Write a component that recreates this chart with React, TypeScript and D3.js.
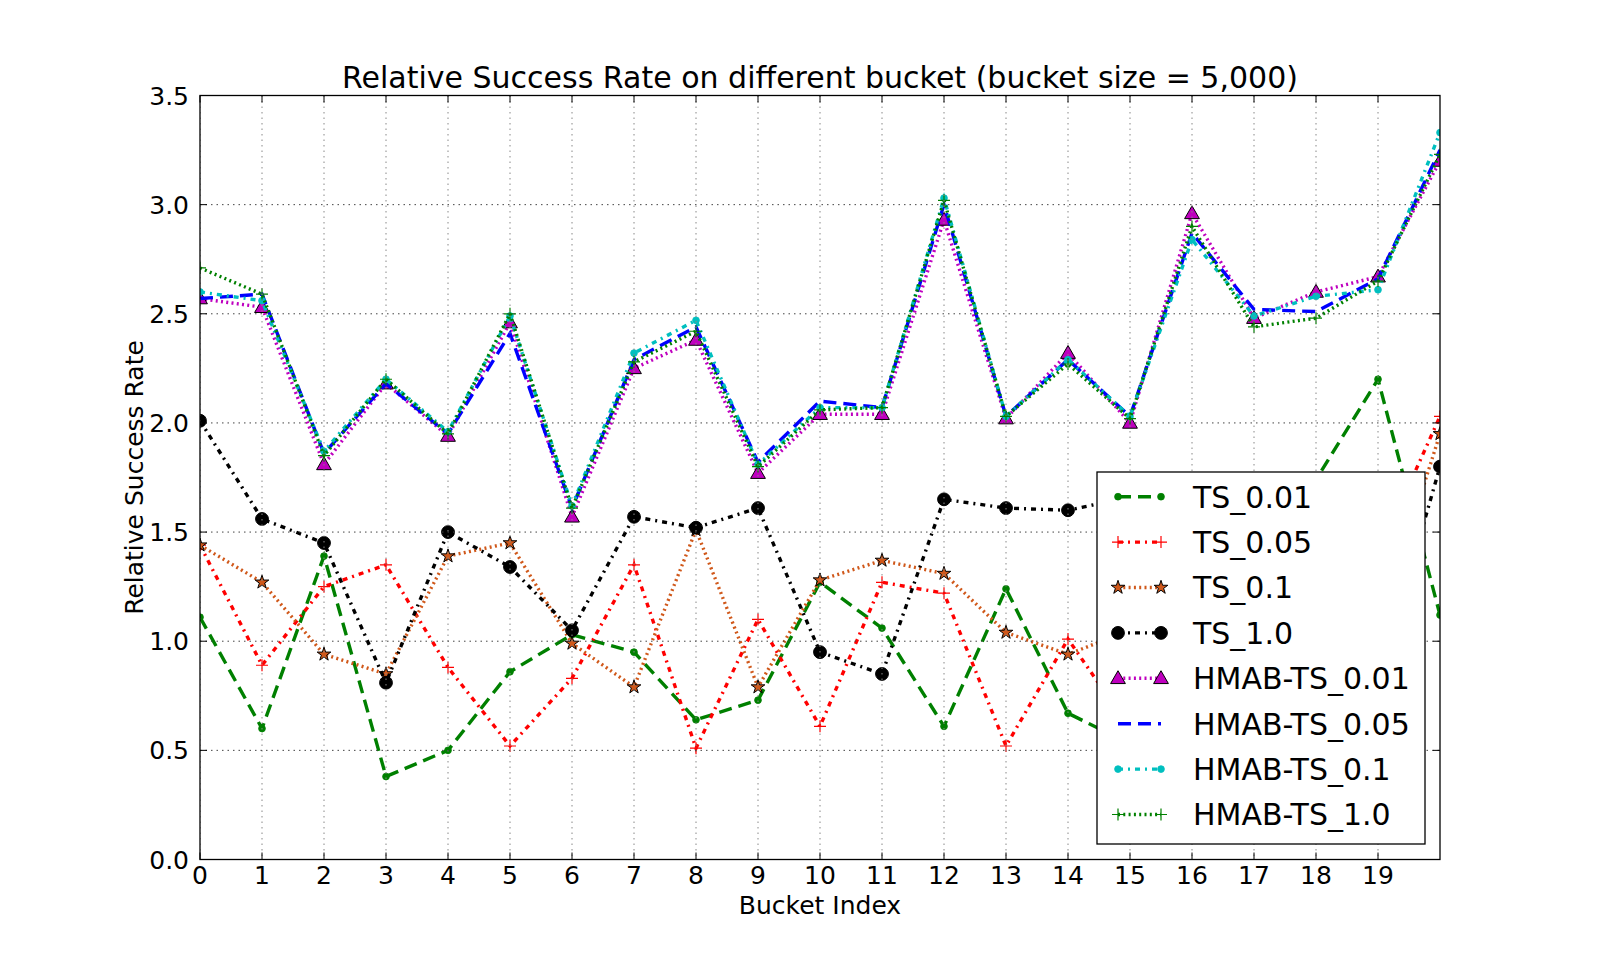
import * as React from 'react'
import * as d3 from 'd3'

// bucket index for every point, x ticks shown 0..19
const buckets = [0, 1, 2, 3, 4, 5, 6, 7, 8, 9, 10, 11, 12, 13, 14, 15, 16, 17, 18, 19, 20]
const xTicks = [0, 1, 2, 3, 4, 5, 6, 7, 8, 9, 10, 11, 12, 13, 14, 15, 16, 17, 18, 19]
const yTicks = [0, 0.5, 1, 1.5, 2, 2.5, 3, 3.5]

const ts001 = [1.11, 0.6, 1.39, 0.38, 0.5, 0.86, 1.03, 0.95, 0.64, 0.73, 1.27, 1.06, 0.61, 1.24, 0.67, 0.53, 0.95, 1.3, 1.74, 2.2, 1.12]
const ts005 = [1.44, 0.89, 1.25, 1.35, 0.88, 0.52, 0.83, 1.35, 0.51, 1.1, 0.61, 1.27, 1.22, 0.52, 1.01, 0.6, 1.25, 0.85, 1.15, 1.4, 2.03]
const ts01 = [1.44, 1.27, 0.94, 0.85, 1.39, 1.45, 0.99, 0.79, 1.51, 0.79, 1.28, 1.37, 1.31, 1.04, 0.94, 1.05, 0.9, 1.2, 0.95, 1.05, 1.95]
const ts10 = [2.01, 1.56, 1.45, 0.81, 1.5, 1.34, 1.05, 1.57, 1.52, 1.61, 0.95, 0.85, 1.65, 1.61, 1.6, 1.66, 1.45, 1.7, 1.2, 0.81, 1.8]
const hmab001 = [2.57, 2.53, 1.81, 2.18, 1.94, 2.46, 1.57, 2.25, 2.38, 1.77, 2.04, 2.04, 2.93, 2.02, 2.32, 2.0, 2.96, 2.48, 2.6, 2.67, 3.2]
const hmab005 = [2.57, 2.59, 1.86, 2.18, 1.95, 2.41, 1.61, 2.29, 2.44, 1.82, 2.1, 2.07, 3.0, 2.03, 2.29, 2.03, 2.87, 2.52, 2.51, 2.66, 3.25]
const hmab01 = [2.6, 2.56, 1.87, 2.2, 1.96, 2.49, 1.62, 2.32, 2.47, 1.81, 2.07, 2.07, 3.03, 2.03, 2.29, 2.03, 2.84, 2.49, 2.58, 2.61, 3.33]
const hmab10 = [2.71, 2.59, 1.85, 2.2, 1.95, 2.5, 1.61, 2.28, 2.42, 1.8, 2.06, 2.07, 3.02, 2.03, 2.27, 2.02, 2.9, 2.44, 2.48, 2.65, 3.23]

type MarkerKind = 'dot' | 'plus' | 'star' | 'circle' | 'triangle' | 'none'

interface ISeries {
    name: string
    values: number[]
    color: string
    dash: string
    marker: MarkerKind
}

const DASHED = '13,7'
const DASHDOT = '5,5,2,5'
const DOTTED = '2,3.3'

const series: ISeries[] = [
    { name: 'TS_0.01', values: ts001, color: '#008000', dash: DASHED, marker: 'dot' },
    { name: 'TS_0.05', values: ts005, color: '#ff0000', dash: DASHDOT, marker: 'plus' },
    { name: 'TS_0.1', values: ts01, color: '#d0581a', dash: DOTTED, marker: 'star' },
    { name: 'TS_1.0', values: ts10, color: '#000000', dash: DASHDOT, marker: 'circle' },
    { name: 'HMAB-TS_0.01', values: hmab001, color: '#bf00bf', dash: DOTTED, marker: 'triangle' },
    { name: 'HMAB-TS_0.05', values: hmab005, color: '#0000ff', dash: DASHED, marker: 'none' },
    { name: 'HMAB-TS_0.1', values: hmab01, color: '#00bfbf', dash: DASHDOT, marker: 'dot' },
    { name: 'HMAB-TS_1.0', values: hmab10, color: '#008000', dash: DOTTED, marker: 'plus' },
]

const W = 1600
const H = 955
const left = 200
const right = 1440
const top = 95.5
const bottom = 859.5
const LW = 3.4
const FONT = 'DejaVu Sans, sans-serif'

const starPath = d3.symbol(d3.symbolStar, 58)() || ''
const trianglePath = d3.symbol(d3.symbolTriangle, 95)() || ''

function Marker(props: { kind: MarkerKind; x: number; y: number; color: string }) {
    const { kind, x, y, color } = props
    const t = `translate(${x},${y})`
    switch (kind) {
        case 'dot':
            return <circle cx={x} cy={y} r={3.4} fill={color} stroke={color} strokeWidth={0.8} />
        case 'plus':
            return <path transform={t} d="M-6,0H6M0,-6V6" stroke={color} strokeWidth={1.2} fill="none" />
        case 'star':
            return <path transform={t} d={starPath} fill={color} stroke="#000" strokeWidth={1} />
        case 'circle':
            return <circle cx={x} cy={y} r={6.4} fill="#000" stroke="#000" strokeWidth={1} />
        case 'triangle':
            return <path transform={`translate(${x},${y + 1})`} d={trianglePath} fill={color} stroke="#000" strokeWidth={1} />
        default:
            return null
    }
}

export default function App() {
    const x = d3.scaleLinear().domain([0, 20]).range([left, right])
    const y = d3.scaleLinear().domain([0, 3.5]).range([bottom, top])
    const line = d3.line<number>()
        .x((d, i) => x(buckets[i]))
        .y(d => y(d))

    const legend = { x0: 1097, y0: 472, x1: 1425, y1: 844, row0: 496.7, step: 45.4 }

    return (
        <svg width={W} height={H} style={{ position: 'absolute', left: 0, top: 0, background: '#fff' }}
            fontFamily={FONT}>
            <defs>
                <clipPath id="plot">
                    <rect x={left} y={top} width={right - left} height={bottom - top} />
                </clipPath>
            </defs>
            <rect x={0} y={0} width={W} height={H} fill="#fff" />

            <g clipPath="url(#plot)">
                {series.map(s => (
                    <g key={s.name}>
                        <path d={line(s.values) || ''} fill="none" stroke={s.color} strokeWidth={LW}
                            strokeDasharray={s.dash} />
                        {s.values.map((v, i) => (
                            <Marker key={i} kind={s.marker} x={x(buckets[i])} y={y(v)} color={s.color} />
                        ))}
                    </g>
                ))}

                {/* grid */}
                {xTicks.map(t => (
                    <line key={'gx' + t} x1={x(t)} x2={x(t)} y1={top} y2={bottom}
                        stroke="#888" strokeWidth={1} strokeDasharray="1.5,4" />
                ))}
                {yTicks.map(t => (
                    <line key={'gy' + t} x1={left} x2={right} y1={y(t)} y2={y(t)}
                        stroke="#444" strokeWidth={1} strokeDasharray="1.5,4" />
                ))}
            </g>

            {/* ticks, inward on every side */}
            {xTicks.map(t => (
                <g key={'tx' + t} stroke="#000" strokeWidth={1}>
                    <line x1={x(t)} x2={x(t)} y1={bottom} y2={bottom - 7} />
                    <line x1={x(t)} x2={x(t)} y1={top} y2={top + 7} />
                </g>
            ))}
            {yTicks.map(t => (
                <g key={'ty' + t} stroke="#000" strokeWidth={1}>
                    <line x1={left} x2={left + 7} y1={y(t)} y2={y(t)} />
                    <line x1={right} x2={right - 7} y1={y(t)} y2={y(t)} />
                </g>
            ))}

            {/* legend */}
            <rect x={legend.x0} y={legend.y0} width={legend.x1 - legend.x0} height={legend.y1 - legend.y0}
                fill="#fff" stroke="#000" strokeWidth={1.3} />
            {series.map((s, k) => {
                const cy = legend.row0 + k * legend.step
                return (
                    <g key={'lg' + s.name}>
                        <line x1={1118} x2={1161} y1={cy} y2={cy} stroke={s.color} strokeWidth={LW}
                            strokeDasharray={s.dash} />
                        <Marker kind={s.marker} x={1118} y={cy} color={s.color} />
                        <Marker kind={s.marker} x={1161} y={cy} color={s.color} />
                        <text x={1193} y={cy} dy="0.36em" fontSize={30} fill="#000">{s.name}</text>
                    </g>
                )
            })}

            {/* frame */}
            <rect x={left} y={top} width={right - left} height={bottom - top} fill="none" stroke="#000" strokeWidth={1.3} />

            {/* tick labels */}
            {xTicks.map(t => (
                <text key={'lx' + t} x={x(t)} y={884} textAnchor="middle" fontSize={25}>{t}</text>
            ))}
            {yTicks.map(t => (
                <text key={'ly' + t} x={189} y={y(t)} dy="0.36em" textAnchor="end" fontSize={25}>{d3.format('.1f')(t)}</text>
            ))}

            <text x={(left + right) / 2} y={88} textAnchor="middle" fontSize={30}>
                Relative Success Rate on different bucket (bucket size = 5,000)
            </text>
            <text x={(left + right) / 2} y={914} textAnchor="middle" fontSize={25}>Bucket Index</text>
            <text transform={`translate(143,${(top + bottom) / 2}) rotate(-90)`} textAnchor="middle" fontSize={25}>
                Relative Success Rate
            </text>
        </svg>
    )
}
